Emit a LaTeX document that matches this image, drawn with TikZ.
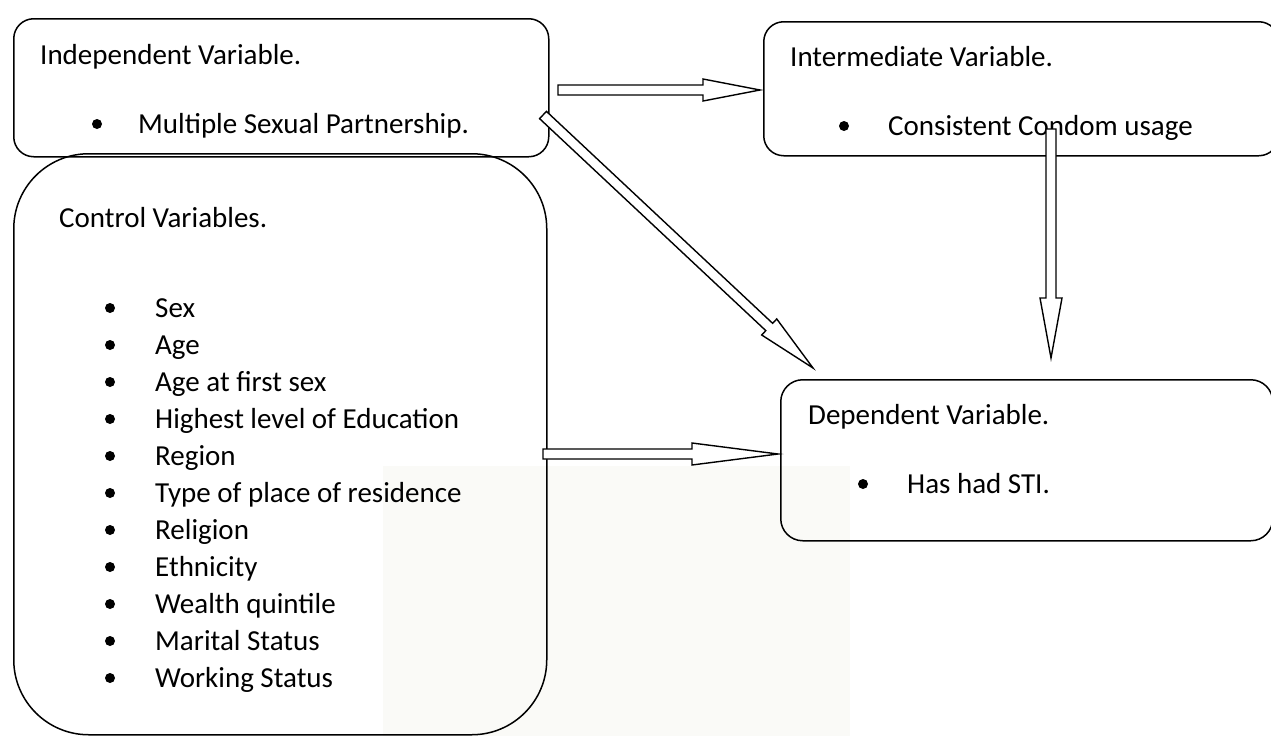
\documentclass[tikz,border=0pt]{standalone}
\usepackage{fontspec}
\setmainfont{Carlito}
\usetikzlibrary{calc}
\definecolor{wmark}{RGB}{250,250,247}
\newcommand\blockarrow[3]{% start, tip, head length
  \coordinate (ba-h) at ($(#2)!#3!(#1)$);
  \draw[blockarr] ($(#1)!5pt!90:(#2)$) -- ($(ba-h)!5pt!-90:(#1)$) -- ($(ba-h)!11pt!-90:(#1)$) -- (#2)
    -- ($(ba-h)!11pt!90:(#1)$) -- ($(ba-h)!5pt!90:(#1)$) -- ($(#1)!5pt!-90:(#2)$) -- cycle;}
\begin{document}
\begin{tikzpicture}[x=1pt,y=-1pt,
  every node/.style={font=\fontsize{29}{35}\selectfont},
  box/.style={draw,line width=1.5pt,rounded corners=20pt,inner sep=0pt,anchor=north west},
  txt/.style={anchor=base west,inner sep=0pt},
  bul/.style={circle,fill,inner sep=0pt,minimum size=10pt},
  blockarr/.style={draw,line width=1.4pt,fill=white,line join=miter}]
\useasboundingbox (0,0) rectangle (1271,736);
% faint watermark panel behind the diagram
\fill[wmark] (383,466) rectangle (850,736);
% variable boxes
\node[box,rounded corners=75pt,minimum width=533pt,minimum height=581pt] (ctrl) at (13,153) {};
\node[box,minimum width=535pt,minimum height=138pt] (indep) at (13,18) {};
\node[box,minimum width=515pt,minimum height=134pt] (inter) at (763,21) {};
\node[box,rounded corners=22pt,minimum width=492pt,minimum height=161pt] (dep) at (780,379) {};
\node[txt] (indeptitle) at (40,64) {Independent Variable.};
\node[bul] (indepb) at (97,124) {};
\node[txt] (indep1) at (138,133) {Multiple Sexual Partnership.};
\node[txt] (intertitle) at (790,66) {Intermediate Variable.};
\node[bul] (interb) at (844,126) {};
\node[txt] (inter1) at (888,135) {Consistent Condom usage};
\node[txt] (deptitle) at (808,424) {Dependent Variable.};
\node[bul] (depb) at (863,484) {};
\node[txt] (dep1) at (907,493) {Has had STI.};
\node[txt] (ctrltitle) at (59,227) {Control Variables.};
\foreach \item [count=\i] in {Sex,Age,Age at first sex,Highest level of Education,Region,Type of place of residence,Religion,Ethnicity,Wealth quintile,Marital Status,Working Status}{
  \node[bul] (ctrlb\i) at (110,{308+37*(\i-1)}) {};
  \node[txt] (ctrl\i) at (155,{317+37*(\i-1)}) {\item};
}
% block arrows
\coordinate (indep-e) at (558,90);
\coordinate (inter-w) at (760,90);
\coordinate (indep-se) at (543,115);
\coordinate (dep-nw) at (813,368);
\coordinate (inter-s) at (1051,129);
\coordinate (dep-n) at (1051,358);
\coordinate (ctrl-e) at (543,454);
\coordinate (dep-w) at (778,454);
\blockarrow{indep-e}{inter-w}{57pt}
\blockarrow{indep-se}{dep-nw}{60pt}
\blockarrow{inter-s}{dep-n}{60pt}
\blockarrow{ctrl-e}{dep-w}{86pt}
\end{tikzpicture}
\end{document}
